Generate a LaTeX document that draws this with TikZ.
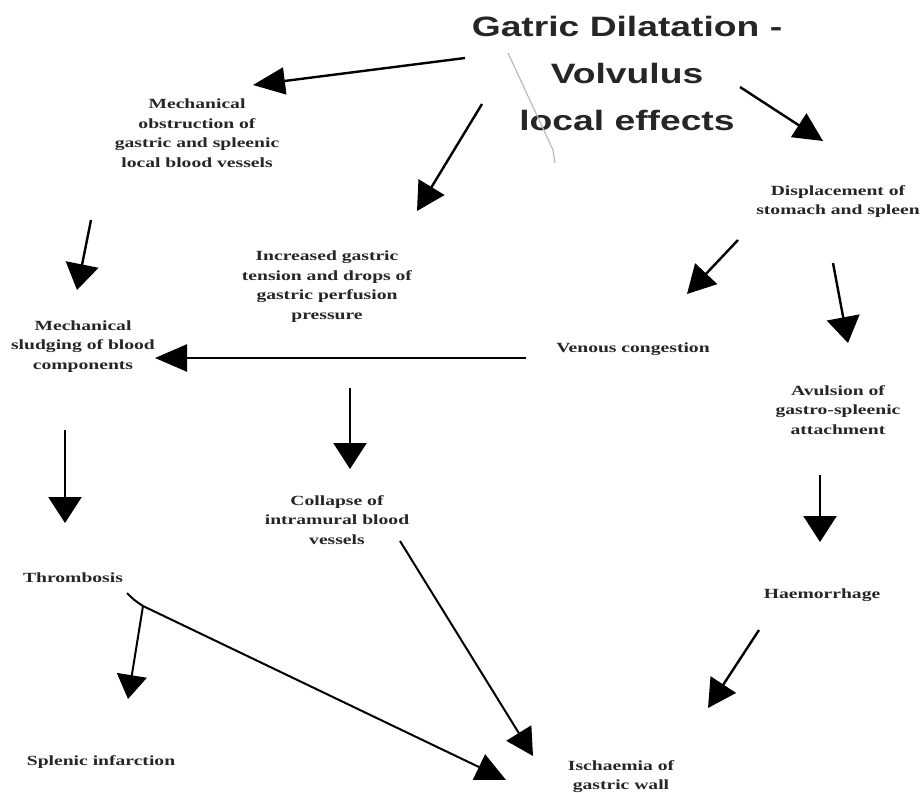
\documentclass[tikz,border=0pt]{standalone}
\usepackage{fontspec}
\setmainfont{Liberation Serif}
\newfontfamily\titlefont{Liberation Sans}
\usetikzlibrary{arrows.meta}
\definecolor{txt}{HTML}{262626}
\definecolor{faint}{HTML}{B4BCC4}
\newcommand\wide[2]{\scalebox{#1}[1]{\begin{tabular}{@{}c@{}}#2\end{tabular}}}
\newcommand\lab[1]{\wide{1.4}{#1}}
\tikzset{
  lbl/.style={font=\bfseries\fontsize{14}{19.5}\selectfont, text=txt, align=center, inner sep=0pt},
  arrH/.style={line width=2.4pt, -{Triangle[length=32pt,width=27pt]}},
  arrV/.style={line width=2.4pt, -{Triangle[length=26pt,width=33pt]}},
  arrD/.style={line width=2.4pt, -{Triangle[length=28pt,width=30pt]}},
  arrDH/.style={line width=2.4pt, -{Triangle[length=29pt,width=28pt]}}
}
\begin{document}
\begin{tikzpicture}[x=1pt,y=-1pt]
\useasboundingbox[fill=white] (0,0) rectangle (922,793);
% title
\node[font=\titlefont\bfseries\fontsize{28}{47}\selectfont, inner sep=0pt, text=txt] (title) at (627,74) {\wide{1.33}{Gatric Dilatation -\\Volvulus\\local effects}};
% labels
\node[lbl] (mob) at (197,134) {\lab{Mechanical\\obstruction of\\gastric and spleenic\\local blood vessels}};
\node[lbl] (igt) at (327,286) {\lab{Increased gastric\\tension and drops of\\gastric perfusion\\pressure}};
\node[lbl] (dis) at (838,201) {\lab{Displacement of\\stomach and spleen}};
\node[lbl] (ven) at (633,349) {\lab{Venous congestion}};
\node[lbl] (msl) at (83,346) {\lab{Mechanical\\sludging of blood\\components}};
\node[lbl] (avu) at (838,411) {\lab{Avulsion of\\gastro-spleenic\\attachment}};
\node[lbl] (col) at (337,521) {\lab{Collapse of\\intramural blood\\vessels}};
\node[lbl] (thr) at (73,579) {\lab{Thrombosis}};
\node[lbl] (hae) at (822,595) {\lab{Haemorrhage}};
\node[lbl] (spl) at (101,762) {\lab{Splenic infarction}};
\node[lbl] (isc) at (621,776) {\lab{Ischaemia of\\gastric wall}};
% connector end points
\coordinate (a1s) at (465,58);  \coordinate (a1e) at (253,85);
\coordinate (a2s) at (482,104); \coordinate (a2e) at (417,211);
\coordinate (a3s) at (740,87);  \coordinate (a3e) at (823,141);
\coordinate (a4s) at (91,220);  \coordinate (a4e) at (77,290);
\coordinate (a5s) at (738,240); \coordinate (a5e) at (687,294);
\coordinate (a6s) at (833,263); \coordinate (a6e) at (848,343);
\coordinate (a7s) at (526,358); \coordinate (a7e) at (155,358);
\coordinate (a8s) at (350,388); \coordinate (a8e) at (350,469);
\coordinate (a9s) at (65,430);  \coordinate (a9e) at (65,523);
\coordinate (a10s) at (820,475); \coordinate (a10e) at (820,542);
\coordinate (a11s) at (400,541); \coordinate (a11e) at (533,756);
\coordinate (a12s) at (127,593); \coordinate (a12c) at (134,600); \coordinate (a12m) at (143,606); \coordinate (a12e) at (506,780);
\coordinate (a13e) at (128,699);
\coordinate (a14s) at (759,630); \coordinate (a14e) at (708,708);
\coordinate (g1) at (508,53); \coordinate (g2) at (553,150); \coordinate (g3) at (555,163);
% arrows
\draw[arrH] (a1s) -- (a1e);
\draw[arrD] (a2s) -- (a2e);
\draw[arrDH] (a3s) -- (a3e);
\draw[arrV] (a4s) -- (a4e);
\draw[arrD] (a5s) -- (a5e);
\draw[arrV] (a6s) -- (a6e);
\draw[arrH] (a7s) -- (a7e);
\draw[arrV] (a8s) -- (a8e);
\draw[arrV] (a9s) -- (a9e);
\draw[arrV] (a10s) -- (a10e);
\draw[line width=2pt, -{Triangle[length=27pt,width=29pt]}] (a11s) -- (a11e);
\draw[line width=2pt, line join=round, -{Triangle[length=30pt,width=28pt]}] (a12s) .. controls (a12c) .. (a12m) -- (a12e);
\draw[line width=2pt, -{Triangle[length=24pt,width=30pt]}] (a12m) -- (a13e);
\draw[arrD] (a14s) -- (a14e);
% faint grey stroke
\draw[line width=1.2pt, color=faint] (g1) -- (g2) -- (g3);
\end{tikzpicture}
\end{document}
